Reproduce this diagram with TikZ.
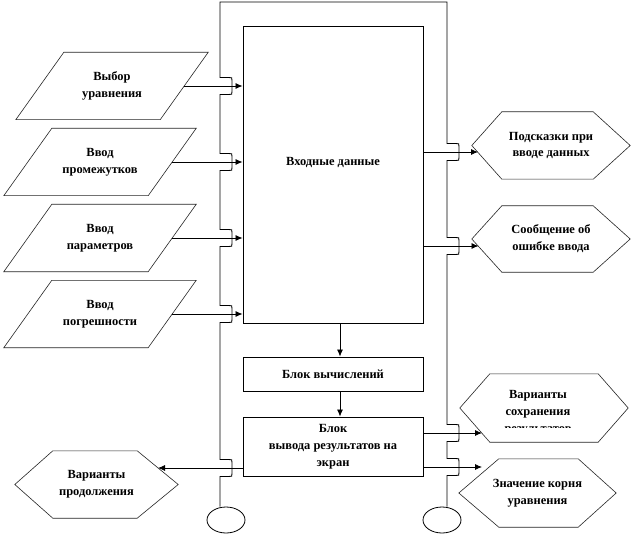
\documentclass[tikz,border=0pt]{standalone}
\usepackage{fontspec}
\setmainfont{Liberation Serif}
\usetikzlibrary{arrows.meta,shapes.geometric}
\newcommand\drawHexOutline[3]{\draw[outline] (#1.west) -- ([xshift=#2]#1.north west) -- ([xshift=-#3]#1.north east) -- (#1.east) -- ([xshift=-#3]#1.south east) -- ([xshift=#2]#1.south west) -- cycle;}
\newcommand\drawParOutline[1]{\draw[outline] (#1.south west) -- ([xshift=48bp]#1.north west) -- (#1.north east) -- ([xshift=-48bp]#1.south east) -- cycle;}
\begin{document}
\begin{tikzpicture}[x=1bp,y=-1bp,
  lbl/.style={font=\bfseries\fontsize{12.5}{17}\selectfont, align=center, inner sep=0pt},
  region/.style 2 args={lbl, minimum width=#1, minimum height=#2},
  boxn/.style={lbl, draw=black, line width=0.9bp, minimum width=180bp},
  outline/.style={draw=black!85, line width=0.6bp},
  frame/.style={draw=black, line width=0.9bp},
  arr/.style={-{Latex[length=7bp,width=6bp]}, line width=0.8bp},
  bumpup/.style 2 args={insert path={-- (#1,{#2+8.5}) -- ({#1+9},{#2+8.5}) .. controls ({#1+12},{#2+8.5}) .. ({#1+12},{#2+5.5}) -- ({#1+12},{#2-5.5}) .. controls ({#1+12},{#2-8.5}) .. ({#1+9},{#2-8.5}) -- (#1,{#2-8.5})}},
  bumpdown/.style 2 args={insert path={-- (#1,{#2-8.5}) -- ({#1+9},{#2-8.5}) .. controls ({#1+12},{#2-8.5}) .. ({#1+12},{#2-5.5}) -- ({#1+12},{#2+5.5}) .. controls ({#1+12},{#2+8.5}) .. ({#1+9},{#2+8.5}) -- (#1,{#2+8.5})}}
]
\useasboundingbox[fill=white] (0,0) rectangle (632,536);

% input parallelograms
\node[region={192bp}{67bp}] (p1) at (112,86) {Выбор\\уравнения};
\node[region={192bp}{67bp}] (p2) at (100,162) {Ввод\\промежутков};
\node[region={192bp}{67bp}] (p3) at (100,238) {Ввод\\параметров};
\node[region={192bp}{67bp}] (p4) at (100,314) {Ввод\\погрешности};
\drawParOutline{p1}
\drawParOutline{p2}
\drawParOutline{p3}
\drawParOutline{p4}

% main blocks
\node[boxn, minimum height=297bp] (inp) at (333,174.5) {};
\node[lbl] (inptxt) at (333,163) {Входные данные};
\node[boxn, minimum height=34bp] (comp) at (333,374) {Блок вычислений};
\node[boxn, minimum height=59bp] (outp) at (333,446.5) {Блок\\вывода результатов на\\экран};

% hexagons
\node[region={158bp}{67bp}] (h1) at (551,145.5) {Подсказки при\\вводе данных};
\node[region={158bp}{66bp}] (h2) at (551,239) {Сообщение об\\ошибке ввода};
\node[region={168bp}{68bp}] (h3) at (544,408) {};
\begin{scope}
  \clip (0,0) rectangle (632,427);
  \node[lbl] (h3t) at (538,413) {Варианты\\сохранения\\результатов};
\end{scope}
\node[region={157bp}{68bp}] (h4) at (537.5,493) {Значение корня\\уравнения};
\node[region={163bp}{67bp}] (h5) at (96.5,484.5) {Варианты\\продолжения};
\drawHexOutline{h1}{30bp}{37bp}
\drawHexOutline{h2}{30bp}{37bp}
\drawHexOutline{h3}{30bp}{30bp}
\drawHexOutline{h4}{40bp}{38bp}
\drawHexOutline{h5}{38bp}{41bp}

% terminal ellipses
\node[ellipse, draw=black, line width=0.8bp, minimum width=38bp, minimum height=26bp, inner sep=0pt] (e1) at (226,520) {};
\node[ellipse, draw=black, line width=0.8bp, minimum width=38bp, minimum height=26bp, inner sep=0pt] (e2) at (442,520) {};

% frame with line jumps
\coordinate (ftl) at (220,2);
\coordinate (ftr) at (447,2);
\draw[frame] (ftl |- e1.north) [bumpup={220}{468}] [bumpup={220}{314}] [bumpup={220}{238}] [bumpup={220}{162}] [bumpup={220}{86}] -- (ftl) -- (ftr)
  [bumpdown={447}{152}] [bumpdown={447}{246}] [bumpdown={447}{433}] [bumpdown={447}{467}] -- (ftr |- e2.north);

% connectors
\draw[arr] ([xshift=-24bp]p1.east) -- (p1.center -| inp.west);
\draw[arr] ([xshift=-24bp]p2.east) -- (p2.center -| inp.west);
\draw[arr] ([xshift=-24bp]p3.east) -- (p3.center -| inp.west);
\draw[arr] ([xshift=-24bp]p4.east) -- (p4.center -| inp.west);
\draw[arr] ([xshift=7bp]inp.south) -- ([xshift=7bp]comp.north);
\draw[arr] ([xshift=7bp]comp.south) -- ([xshift=7bp]outp.north);
\coordinate (h1in) at (478,152);
\coordinate (h2in) at (478.5,246);
\coordinate (h3in) at (482,433);
\coordinate (h4in) at (482,467);
\coordinate (h5in) at (158,468);
\draw[arr] (h1in -| inp.east) -- (h1in);
\draw[arr] (h2in -| inp.east) -- (h2in);
\draw[arr] (h3in -| outp.east) -- (h3in);
\draw[arr] (h4in -| outp.east) -- (h4in);
\draw[arr] (h5in -| outp.west) -- (h5in);
\end{tikzpicture}
\end{document}
